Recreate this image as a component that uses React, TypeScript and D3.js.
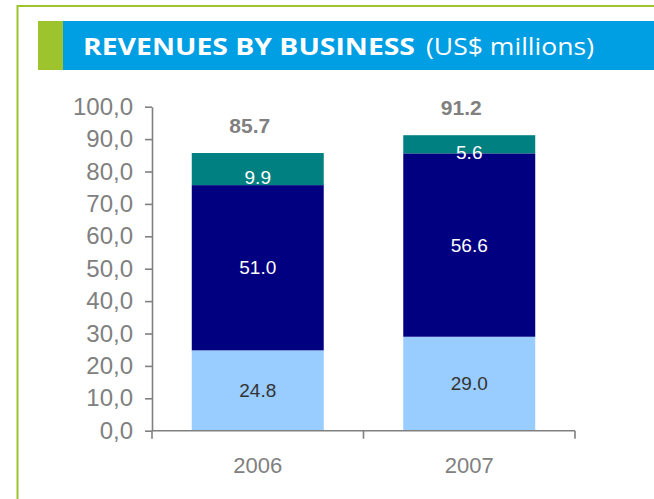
import React, { useEffect, useRef } from "react";
import * as d3 from "d3";

// values (US$ millions)
const years = ["2006", "2007"];
const bottomValues = [24.8, 29.0];
const middleValues = [51.0, 56.6];
const topValues = [9.9, 5.6];
const totals = [85.7, 91.2];
const yTickValues = [0, 10, 20, 30, 40, 50, 60, 70, 80, 90, 100];

const seriesKeys = ["bottom", "middle", "top"];
const seriesColors = ["#99ccff", "#000080", "#008080"];
const labelColors = ["#333333", "#ffffff", "#ffffff"];

const W = 654;
const H = 499;

const App = () => {
  const svgRef = useRef(null);

  useEffect(() => {
    const root = d3.select(svgRef.current);
    root.selectAll("*").remove();

    const svg = root.attr("width", W).attr("height", H);

    // frame + title band
    svg
      .append("rect")
      .attr("x", 17.5)
      .attr("y", 6)
      .attr("width", 700)
      .attr("height", 600)
      .attr("fill", "none")
      .attr("stroke", "#9dc42d")
      .attr("stroke-width", 2);

    svg.append("rect").attr("x", 38).attr("y", 21).attr("width", 620).attr("height", 49).attr("fill", "#009ee2");
    svg.append("rect").attr("x", 38).attr("y", 21).attr("width", 25).attr("height", 49).attr("fill", "#9dc42d");

    svg
      .append("text")
      .attr("x", 83)
      .attr("y", 54.5)
      .attr("fill", "#fff")
      .attr("font-family", "'Open Sans', sans-serif")
      .attr("font-weight", "bold")
      .attr("font-size", 23)
      .attr("textLength", 332)
      .attr("lengthAdjust", "spacingAndGlyphs")
      .text("REVENUES BY BUSINESS");

    svg
      .append("text")
      .attr("x", 426)
      .attr("y", 54.5)
      .attr("fill", "#fff")
      .attr("font-family", "'Open Sans', sans-serif")
      .attr("font-size", 23)
      .attr("textLength", 168)
      .attr("lengthAdjust", "spacingAndGlyphs")
      .text("(US$ millions)");

    // plot area
    const left = 152;
    const right = 575;
    const top = 106.7;
    const bottom = 430.7;

    const x = d3.scaleBand().domain(years).range([left, right]).paddingInner(0.376).paddingOuter(0.188);
    const y = d3.scaleLinear().domain([0, 100]).range([bottom, top]);

    const rows = years.map((yr, i) => ({
      year: yr,
      bottom: bottomValues[i],
      middle: middleValues[i],
      top: topValues[i],
    }));
    const stacked = d3.stack().keys(seriesKeys)(rows);

    const fmtComma = d3.formatLocale({ decimal: ",", thousands: ".", grouping: [3], currency: ["", ""] }).format(".1f");
    const fmt = d3.format(".1f");
    const gray = "#808080";
    const font = "'Liberation Sans', Arial, sans-serif";

    stacked.forEach((layer, si) => {
      const g = svg.append("g");
      g.selectAll("rect")
        .data(layer)
        .join("rect")
        .attr("x", (d) => x(d.data.year))
        .attr("y", (d) => y(d[1]))
        .attr("width", x.bandwidth())
        .attr("height", (d) => y(d[0]) - y(d[1]))
        .attr("fill", seriesColors[si]);

      // top labels sit a little low in the original
      const nudge = si === 2 ? 8 : 0;
      g.selectAll("text")
        .data(layer)
        .join("text")
        .attr("x", (d) => x(d.data.year) + x.bandwidth() / 2)
        .attr("y", (d) => (y(d[0]) + y(d[1])) / 2 + nudge)
        .attr("dy", "0.35em")
        .attr("text-anchor", "middle")
        .attr("font-family", font)
        .attr("font-size", 19)
        .attr("fill", labelColors[si])
        .text((d) => fmt(d[1] - d[0]));
    });

    // totals
    svg
      .append("g")
      .selectAll("text")
      .data(totals)
      .join("text")
      .attr("x", (d, i) => x(years[i]) + x.bandwidth() / 2 - 8)
      .attr("y", (d) => y(d) - 20)
      .attr("text-anchor", "middle")
      .attr("font-family", font)
      .attr("font-weight", "bold")
      .attr("font-size", 21)
      .attr("fill", gray)
      .text((d) => fmt(d));

    // y axis
    const yAxis = d3.axisLeft(y).tickValues(yTickValues).tickSize(7).tickSizeOuter(0).tickPadding(12).tickFormat(fmtComma);
    const gy = svg.append("g").attr("transform", `translate(${left},0)`).call(yAxis);
    gy.select(".domain").attr("stroke", gray).attr("stroke-width", 1.6);
    gy.selectAll(".tick line").attr("stroke", gray).attr("stroke-width", 1.6);
    gy.selectAll(".tick text").attr("fill", gray).attr("font-family", font).attr("font-size", 24);

    // x axis: ticks at category boundaries, labels centred
    const gx = svg.append("g");
    gx.append("line")
      .attr("x1", left)
      .attr("x2", right)
      .attr("y1", bottom)
      .attr("y2", bottom)
      .attr("stroke", gray)
      .attr("stroke-width", 1.6);
    gx.selectAll(".bound")
      .data(d3.range(years.length + 1))
      .join("line")
      .attr("class", "bound")
      .attr("x1", (i) => left + i * x.step())
      .attr("x2", (i) => left + i * x.step())
      .attr("y1", bottom)
      .attr("y2", bottom + 8)
      .attr("stroke", gray)
      .attr("stroke-width", 1.6);
    gx.selectAll("text")
      .data(years)
      .join("text")
      .attr("x", (d) => x(d) + x.bandwidth() / 2)
      .attr("y", 473.3)
      .attr("text-anchor", "middle")
      .attr("font-family", font)
      .attr("font-size", 22)
      .attr("fill", gray)
      .text((d) => d);

    return () => {
      root.selectAll("*").remove();
    };
  }, []);

  return (
    <div>
      <svg ref={svgRef} style={{ position: "absolute", left: 0, top: 0, display: "block" }}></svg>
    </div>
  );
};

export default App;
